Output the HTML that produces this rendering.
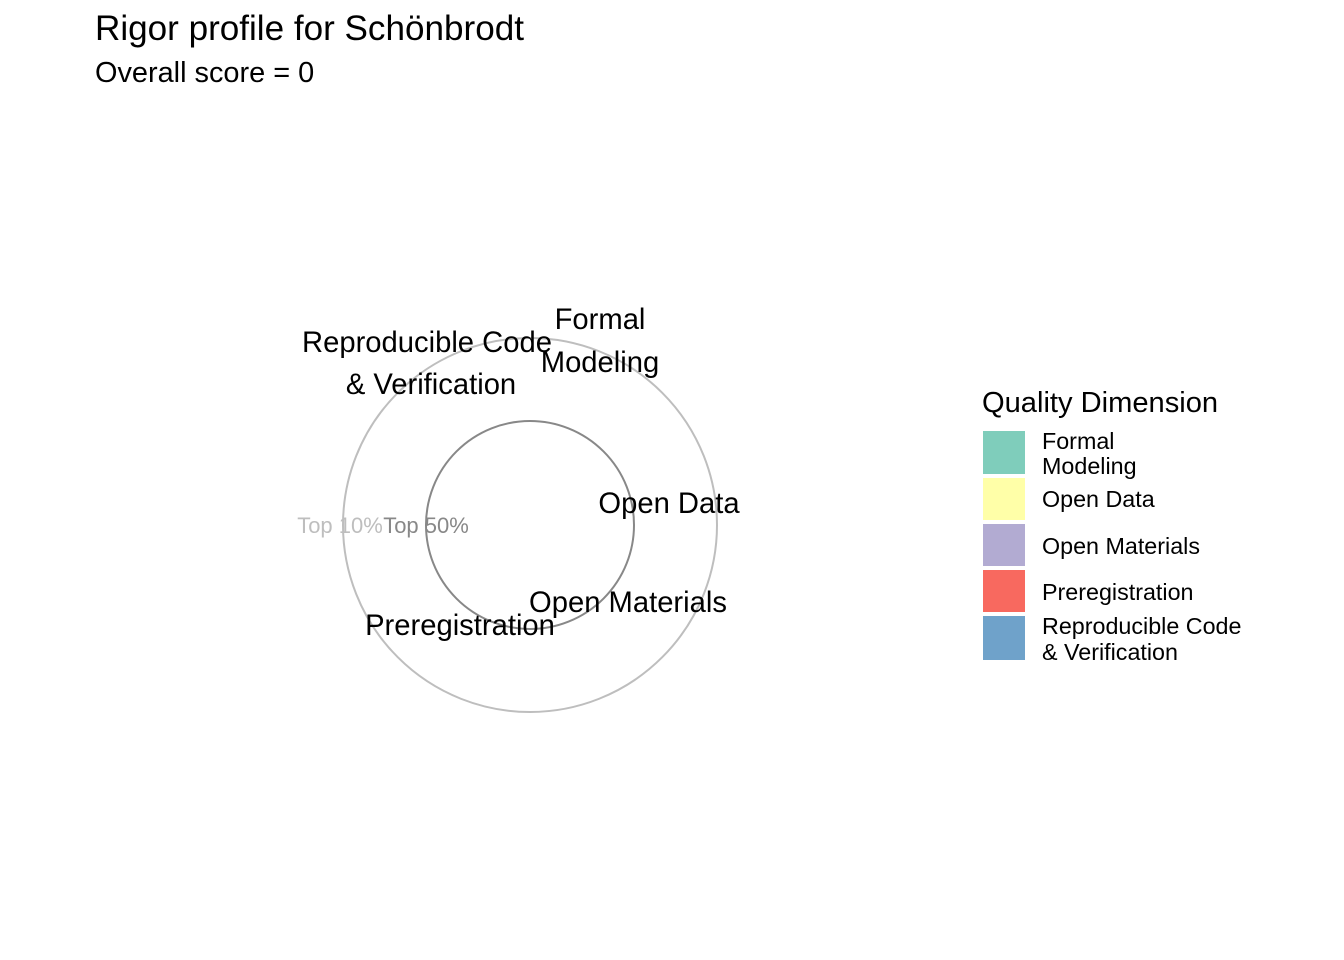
<!DOCTYPE html>
<html><head><meta charset="utf-8"><style>
html,body{margin:0;padding:0;background:#fff;}
svg{display:block;font-family:"Liberation Sans",Arial,sans-serif;}
</style></head><body>
<svg width="1344" height="960" viewBox="0 0 1344 960" xmlns="http://www.w3.org/2000/svg">
<rect width="1344" height="960" fill="#fff"/>
<text x="95" y="40" font-size="35.1" fill="#000">Rigor profile for Schönbrodt</text>
<text x="95" y="82" font-size="28.9" fill="#000">Overall score = 0</text>
<circle cx="530" cy="525" r="187" fill="none" stroke="#bebebe" stroke-width="2"/>
<circle cx="530" cy="525" r="104" fill="none" stroke="#888" stroke-width="2"/>
<g font-size="22" text-anchor="middle">
<text x="340" y="533" fill="#bebebe">Top 10%</text>
<text x="426" y="533" fill="#888">Top 50%</text>
</g>
<g font-size="29.2" text-anchor="middle" fill="#000">
<text x="600" y="329">Formal</text>
<text x="600" y="372">Modeling</text>
<text x="427" y="352">Reproducible Code</text>
<text x="431" y="394">&amp; Verification</text>
<text x="669" y="513">Open Data</text>
<text x="628" y="612">Open Materials</text>
<text x="460" y="635">Preregistration</text>
</g>
<text x="982" y="412" font-size="29.1" fill="#000">Quality Dimension</text>
<rect x="983" y="431" width="42" height="43" fill="#7fcdbb"/>
<rect x="983" y="478" width="42" height="42" fill="#ffffa8"/>
<rect x="983" y="524" width="42" height="42" fill="#b2abd2"/>
<rect x="983" y="570" width="42" height="42" fill="#f8695f"/>
<rect x="983" y="616" width="42" height="44" fill="#6fa2ca"/>
<g font-size="23.3" fill="#000">
<text x="1042" y="449">Formal</text>
<text x="1042" y="474">Modeling</text>
<text x="1042" y="507">Open Data</text>
<text x="1042" y="554">Open Materials</text>
<text x="1042" y="600">Preregistration</text>
<text x="1042" y="634">Reproducible Code</text>
<text x="1042" y="660">&amp; Verification</text>
</g>
</svg>
</body></html>
